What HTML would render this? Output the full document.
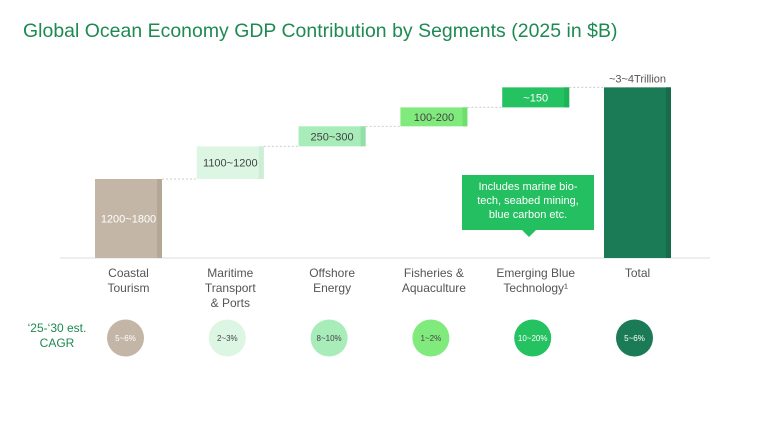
<!DOCTYPE html>
<html><head><meta charset="utf-8">
<style>
body{margin:0;background:#fff;font-family:"Liberation Sans",sans-serif;}
#wrap{position:relative;width:768px;height:422px;overflow:hidden;}
h1{position:absolute;left:23px;top:20px;margin:0;font-weight:normal;font-size:19.4px;letter-spacing:0.05px;color:#1d8a52;}
</style></head><body>
<div id="wrap">
<h1>Global Ocean Economy GDP Contribution by Segments (2025 in $B)</h1>
<svg id="chart" width="768" height="422" style="position:absolute;left:0;top:0"></svg>
</div>
<script>
const categories=["Coastal\nTourism","Maritime\nTransport\n& Ports","Offshore\nEnergy","Fisheries &\nAquaculture","Emerging Blue\nTechnology¹","Total"];
const values=[1500,620,380,360,380];
const valueLabels=["1200~1800","1100~1200","250~300","100-200","~150","~3~4Trillion"];
const cagrLabels=["5~6%","2~3%","8~10%","1~2%","10~20%","5~6%"];
const colors=["#c3b6a6","#ddf6e3","#a7ecb9","#80ea7d","#25c262","#1b7b56"];
const edges=["#b4a796","#cbeed4","#93e0a7","#6ddf6b","#1fb257","#176b4b"];
const svg=document.getElementById('chart');
const NS="http://www.w3.org/2000/svg";
const baseY=258, scale=79/1500, x0=95, step=101.8, bw=67;
function y(v){return baseY-v*scale;}
function xc(i){return x0+i*step;}
function mk(t,a,p){const e=document.createElementNS(NS,t);for(const k in a)e.setAttribute(k,a[k]);(p||svg).appendChild(e);return e;}
const total=values.reduce((a,b)=>a+b,0);
const ax=mk('line',{x1:60,x2:710,y1:baseY,y2:baseY,stroke:'#ddd','stroke-width':1});


let cum=0;
for(let i=0;i<6;i++){
  let lo,hi;
  if(i<5){lo=cum;hi=cum+values[i];cum=hi;}else{lo=0;hi=total;}
  const x=xc(i);
  const g=mk('g',{});
  
  
  mk('rect',{x:x,y:y(hi),width:bw,height:y(lo)-y(hi),fill:colors[i]},g);
  mk('rect',{x:x+bw-5,y:y(hi),width:5,height:y(lo)-y(hi),fill:edges[i]},g);
  if(i<5){
    const c=mk('line',{x1:x+bw,x2:xc(i+1),y1:y(hi),y2:y(hi),stroke:'#ccc','stroke-dasharray':'2,2'});
    
    
  }
  const ly=i==5?y(hi)-5:(y(hi)+y(lo))/2+4;
  const t=mk('text',{x:x+bw/2,y:ly,'text-anchor':'middle','font-size':11,fill:(i==0||i==4)?'#fff':(i==5?'#555':'#444')});
  t.textContent=valueLabels[i];
  
  
  const lines=categories[i].split("\n");
  lines.forEach((s,j)=>{
    const ct=mk('text',{x:x+bw/2,y:277+j*15,'text-anchor':'middle','font-size':12,fill:'#555'});
    ct.textContent=s;
    
    
  });
  const cg=mk('g',{});
  
  
  mk('circle',{cx:x+bw/2-3,cy:338,r:18.5,fill:colors[i]},cg);
  const ctx=mk('text',{x:x+bw/2-3,y:341,'text-anchor':'middle','font-size':8,fill:(i==0||i>=4)?'#fff':'#444'},cg);
  ctx.textContent=cagrLabels[i];
}
['‘25-‘30 est.','CAGR'].forEach((s,j)=>{
  const t=mk('text',{x:57,y:332+j*15,'text-anchor':'middle','font-size':12,fill:'#1d8a52'});
  t.textContent=s;
  
  
});
const cg=mk('g',{});


mk('rect',{x:462,y:175,width:132,height:55,fill:'#24bf60'},cg);
mk('path',{d:'M522 230 L529 237 L536 230 Z',fill:'#24bf60'},cg);
['Includes marine bio-','tech, seabed mining,','blue carbon etc.'].forEach((s,j)=>{
  const t=mk('text',{x:528,y:190+j*14,'text-anchor':'middle','font-size':11,fill:'#fff'},cg);
  t.textContent=s;
});
</script>
</body></html>
